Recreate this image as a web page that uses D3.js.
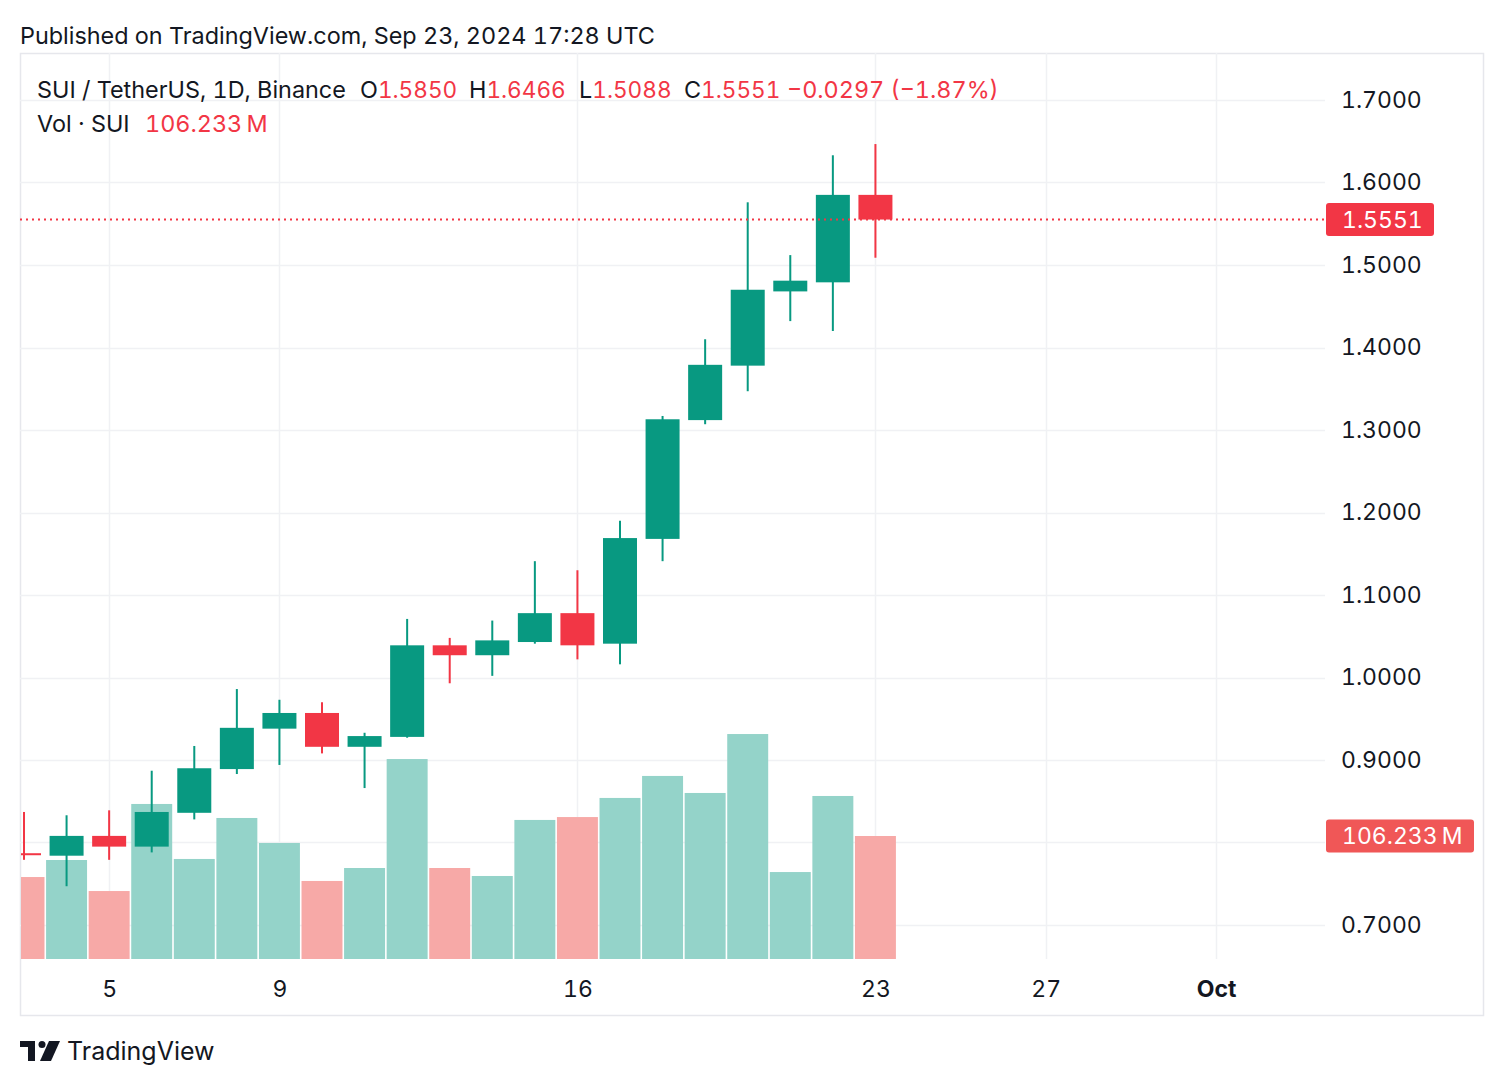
<!DOCTYPE html>
<html><head><meta charset="utf-8">
<script src="https://cdn.jsdelivr.net/npm/d3@7"></script>
<style>
html,body{margin:0;padding:0;background:#fff;}
svg{display:block;font-family:Inter,"Noto Sans",sans-serif;font-variant-numeric:tabular-nums;}
</style></head>
<body>
<svg id="c" width="1504" height="1086"></svg>
<script>
// ---- data ----
const dates = ["2024-09-03","2024-09-04","2024-09-05","2024-09-06","2024-09-07","2024-09-08","2024-09-09","2024-09-10","2024-09-11","2024-09-12","2024-09-13","2024-09-14","2024-09-15","2024-09-16","2024-09-17","2024-09-18","2024-09-19","2024-09-20","2024-09-21","2024-09-22","2024-09-23"];
const open  = [0.7870,0.7840,0.8080,0.7950,0.8360,0.8890,0.9380,0.9570,0.9160,0.9280,1.0390,1.0270,1.0430,1.0780,1.0410,1.1680,1.3120,1.3780,1.4680,1.4790,1.5850];
const high  = [0.8370,0.8330,0.8390,0.8870,0.9170,0.9860,0.9730,0.9700,0.9330,1.0710,1.0480,1.0690,1.1410,1.1300,1.1900,1.3170,1.4100,1.5760,1.5120,1.6330,1.6466];
const low   = [0.7790,0.7470,0.7790,0.7880,0.8280,0.8830,0.8940,0.9080,0.8660,0.9270,0.9930,1.0020,1.0410,1.0220,1.0160,1.1410,1.3070,1.3470,1.4320,1.4200,1.5088];
const close = [0.7850,0.8080,0.7950,0.8370,0.8900,0.9390,0.9570,0.9160,0.9290,1.0390,1.0270,1.0450,1.0780,1.0390,1.1690,1.3130,1.3790,1.4700,1.4810,1.5850,1.5551];
const volumeM = [70.8,85.5,58.7,133.9,86.4,121.8,100.2,67.4,78.6,172.7,78.6,71.7,120.1,122.6,139.1,158.1,143.4,194.3,75.1,140.8,106.233];
const priceTicks = [0.7,0.9,1.0,1.1,1.2,1.3,1.4,1.5,1.6,1.7];
const gridPrices = [0.7,0.8,0.9,1.0,1.1,1.2,1.3,1.4,1.5,1.6,1.7];
const timeTickDates = ["2024-09-05","2024-09-09","2024-09-16","2024-09-23","2024-09-27","2024-10-01"];
const timeTickLabels = ["5","9","16","23","27","Oct"];

const parse = d3.utcParse("%Y-%m-%d");
const data = dates.map((d,i)=>({date:parse(d),o:open[i],h:high[i],l:low[i],c:close[i],v:volumeM[i]}));

const GREEN="#089981", RED="#F23645", VGREEN="#94d3c9", VRED="#f7a9a7";
const TXT="#131722", GRID="#f0f1f4", FRAME="#e6e7ec";
const FS=23.4, AFS=23;

const svg = d3.select("#c");
const L=20, R=1325, T=53, B=959, FR=1483, FB=1015;

const x = d3.scaleUtc().domain([parse("2024-09-03"), parse("2024-10-01")]).range([24, 1216]);
const y = d3.scaleLinear().domain([0.7,1.7]).range([925,100]);
const vy = d3.scaleLinear().domain([0,106.233]).range([B,836]);

// frame
svg.append("rect").attr("x",L+0.5).attr("y",T+0.5).attr("width",FR-L).attr("height",FB-T)
  .attr("fill","none").attr("stroke",FRAME).attr("stroke-width",1.5);

// grid
const g = svg.append("g");
g.selectAll("line.h").data(gridPrices).join("line")
  .attr("x1",L).attr("x2",R).attr("y1",d=>Math.round(y(d))+0.5).attr("y2",d=>Math.round(y(d))+0.5)
  .attr("stroke",GRID).attr("stroke-width",1.5);
g.selectAll("line.v").data(timeTickDates).join("line")
  .attr("x1",d=>Math.round(x(parse(d)))+0.5).attr("x2",d=>Math.round(x(parse(d)))+0.5)
  .attr("y1",T).attr("y2",B)
  .attr("stroke",GRID).attr("stroke-width",1.5);

svg.append("clipPath").attr("id","pc").append("rect").attr("x",L+1).attr("y",T).attr("width",R-L-1).attr("height",B-T);
const plot = svg.append("g").attr("clip-path","url(#pc)");

// volume
const step = x(parse("2024-09-04"))-x(parse("2024-09-03"));
const vw = step-1.6;
plot.selectAll("rect.vol").data(data).join("rect")
  .attr("x",d=>x(d.date)-vw/2).attr("width",vw)
  .attr("y",d=>vy(d.v)).attr("height",d=>B-vy(d.v))
  .attr("fill",d=>d.c>=d.o?VGREEN:VRED);

// candles
const bw = 34;
const cg = plot.selectAll("g.cdl").data(data).join("g");
cg.append("rect")
  .attr("x",d=>x(d.date)-1).attr("width",2)
  .attr("y",d=>y(d.h)).attr("height",d=>y(d.l)-y(d.h))
  .attr("fill",d=>d.c>=d.o?GREEN:RED);
cg.append("rect")
  .attr("x",d=>x(d.date)-bw/2).attr("width",bw)
  .attr("y",d=>y(Math.max(d.o,d.c))).attr("height",d=>Math.max(2,Math.abs(y(d.o)-y(d.c))))
  .attr("fill",d=>d.c>=d.o?GREEN:RED);

// last price line
const last = data[data.length-1];
svg.append("line").attr("x1",L).attr("x2",R).attr("y1",y(last.c)).attr("y2",y(last.c))
  .attr("stroke",RED).attr("stroke-width",2).attr("stroke-dasharray","2,4");

// price axis
const pa = svg.append("g").attr("transform",`translate(${R},0)`)
  .call(d3.axisRight(y).tickValues(priceTicks).tickFormat(d3.format(".4f")).tickSize(0).tickPadding(16));
pa.select(".domain").remove();
pa.selectAll("text").attr("font-size",AFS).attr("fill",TXT).attr("font-family","Inter,sans-serif");

// price label
const pl = svg.append("g").attr("transform",`translate(1326,${y(last.c)})`);
pl.append("rect").attr("x",0).attr("y",-16.5).attr("width",108).attr("height",33).attr("rx",3).attr("fill",RED);
pl.append("text").attr("x",16).attr("dy","0.35em").attr("font-size",AFS).attr("fill","#fff").text(d3.format(".4f")(last.c));

// volume label
const vl = svg.append("g").attr("transform",`translate(1326,${vy(last.v)})`);
vl.append("rect").attr("x",0).attr("y",-16.5).attr("width",148).attr("height",33).attr("rx",3).attr("fill","#f05757");
vl.append("text").attr("x",16).attr("dy","0.35em").attr("font-size",AFS).attr("fill","#fff").text("106.233\u2009M");

// time axis
const ta = svg.append("g").attr("transform",`translate(0,${B})`)
  .call(d3.axisBottom(x).tickValues(timeTickDates.map(parse)).tickFormat((d,i)=>timeTickLabels[i]).tickSize(0).tickPadding(22));
ta.select(".domain").remove();
ta.selectAll("text").attr("font-size",AFS).attr("fill",TXT).attr("font-family","Inter,sans-serif")
  .attr("font-weight",(d,i)=>timeTickLabels[i]==="Oct"?700:400);

// header
svg.append("text").attr("x",20).attr("y",44).attr("font-size",FS).attr("fill",TXT)
  .text("Published on TradingView.com, Sep 23, 2024 17:28 UTC");

const leg = svg.append("text").attr("x",37).attr("y",98).attr("font-size",FS).attr("fill",TXT);
leg.append("tspan").text("SUI / TetherUS, 1D, Binance");
const pieces = [["O",d3.format(".4f")(last.o)],["H",d3.format(".4f")(last.h)],["L",d3.format(".4f")(last.l)],["C",d3.format(".4f")(last.c)]];
const px = [360,469,579,684];
pieces.forEach((p,i)=>{
  leg.append("tspan").attr("x",px[i]).attr("fill",TXT).text(p[0]);
  leg.append("tspan").attr("fill",RED).attr("font-size",22.6).text(p[1]);
});
leg.append("tspan").attr("x",787).attr("fill",RED).text("\u22120.0297 (\u22121.87%)");

const leg2 = svg.append("text").attr("x",37).attr("y",132).attr("font-size",FS).attr("fill",TXT);
leg2.append("tspan").text("Vol \u00b7 SUI");
leg2.append("tspan").attr("x",145).attr("fill",RED).text("106.233\u2009M");

// logo
const lg = svg.append("g").attr("transform","translate(20,1041)").attr("fill",TXT);
lg.append("path").attr("d","M0 0 H15 V20 H8 V6 H0 Z");
lg.append("circle").attr("cx",22).attr("cy",3.5).attr("r",3.5);
lg.append("path").attr("d","M29 0 H40 L31 20 H20 Z");
svg.append("text").attr("x",67).attr("y",1060).attr("font-size",25).attr("fill",TXT).text("TradingView");
</script>
</body></html>
